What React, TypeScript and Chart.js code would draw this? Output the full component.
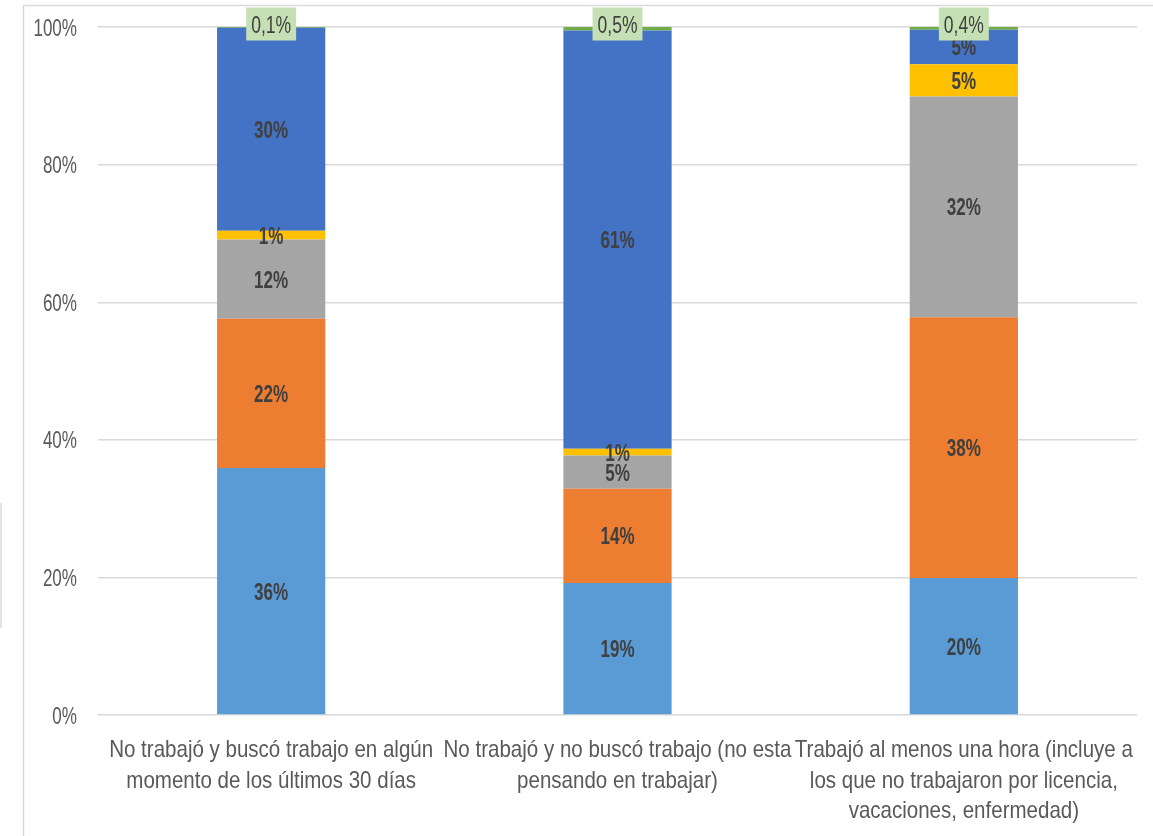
import React, { useEffect, useRef } from "react";
import { Chart, registerables } from "chart.js";

Chart.register(...registerables);

const categories: string[][] = [
  ["No trabajó y buscó trabajo en algún", "momento de los últimos 30 días"],
  ["No trabajó y no buscó trabajo (no esta", "pensando en trabajar)"],
  ["Trabajó al menos una hora (incluye a", "los que no trabajaron por licencia,", "vacaciones, enfermedad)"],
];

const lightBlueValues = [35.9, 19.2, 19.9];
const orangeValues = [21.7, 13.7, 37.9];
const grayValues = [11.5, 4.8, 32.1];
const yellowValues = [1.3, 1.0, 4.7];
const darkBlueValues = [29.5, 60.8, 5.0];
const greenValues = [0.1, 0.5, 0.4];

const seriesNames = ["Serie 1", "Serie 2", "Serie 3", "Serie 4", "Serie 5", "Serie 6"];
const seriesColors = ["#5B9BD5", "#ED7D31", "#A5A5A5", "#FFC000", "#4472C4", "#70AD47"];
const yTickValues = [0, 20, 40, 60, 80, 100];

const FONT = "'Liberation Sans', Arial, sans-serif";

function narrowText(ctx: CanvasRenderingContext2D, txt: string, x: number, y: number, sx: number) {
  ctx.save();
  ctx.translate(x, y);
  ctx.scale(sx, 1);
  ctx.fillText(txt, 0, 0);
  ctx.restore();
}

const labelsPlugin = {
  id: "segLabels",
  afterDatasetsDraw(chart: any) {
    const ctx = chart.ctx as CanvasRenderingContext2D;
    const n = chart.data.datasets.length;
    chart.data.datasets.forEach((ds: any, di: number) => {
      const meta = chart.getDatasetMeta(di);
      meta.data.forEach((el: any, i: number) => {
        const v = ds.data[i] as number;
        ctx.save();
        ctx.textAlign = "center";
        ctx.textBaseline = "alphabetic";
        if (di === n - 1) {
          const txt = v.toFixed(1).replace(".", ",") + "%";
          ctx.font = `24px ${FONT}`;
          const w = ctx.measureText(txt).width * 0.73 + 10;
          const h = 33;
          const cy = el.y - 3;
          ctx.fillStyle = "#C5E0B4";
          ctx.fillRect(el.x - w / 2, cy - h / 2, w, h);
          ctx.fillStyle = "#404040";
          narrowText(ctx, txt, el.x, cy + 8.5, 0.73);
        } else {
          const txt = Math.round(v) + "%";
          ctx.font = `bold 24px ${FONT}`;
          ctx.fillStyle = "#404040";
          narrowText(ctx, txt, el.x, (el.y + el.base) / 2 + 8.5, 0.71);
        }
        ctx.restore();
      });
    });
  },
  afterDraw(chart: any) {
    const ctx = chart.ctx as CanvasRenderingContext2D;
    const ys = chart.scales.y;
    const xs = chart.scales.x;
    ctx.save();
    ctx.fillStyle = "#595959";
    ctx.font = `24px ${FONT}`;
    ctx.textBaseline = "alphabetic";
    ctx.textAlign = "right";
    yTickValues.forEach((v) => {
      const py = ys.getPixelForValue(v);
      narrowText(ctx, v + "%", ys.right - 21, py + 8.5, 0.71);
    });
    ctx.textAlign = "center";
    (chart.data.labels as string[][]).forEach((lines, i) => {
      const px = xs.getPixelForValue(i);
      lines.forEach((line, li) => {
        narrowText(ctx, line, px, xs.top + 42 + li * 30.5, 0.855);
      });
    });
    ctx.restore();
  },
};

const framePlugin = {
  id: "frame",
  beforeDraw(chart: any) {
    const ctx = chart.ctx;
    ctx.save();
    ctx.fillStyle = "#ffffff";
    ctx.fillRect(0, 0, chart.width, chart.height);
    ctx.strokeStyle = "#D9D9D9";
    ctx.lineWidth = 1.5;
    ctx.beginPath();
    ctx.moveTo(23.5, chart.height);
    ctx.lineTo(23.5, 5.5);
    ctx.lineTo(chart.width, 5.5);
    ctx.stroke();
    ctx.strokeStyle = "#E4E4E4";
    ctx.lineWidth = 2;
    ctx.beginPath();
    ctx.moveTo(1, 503);
    ctx.lineTo(1, 628);
    ctx.stroke();
    ctx.restore();
  },
};

export default function App() {
  const ref = useRef<HTMLCanvasElement | null>(null);
  useEffect(() => {
    document.body.style.margin = "0";
    const canvas = ref.current!;
    const valuesList = [lightBlueValues, orangeValues, grayValues, yellowValues, darkBlueValues, greenValues];
    const chart = new Chart(canvas, {
      type: "bar",
      data: {
        labels: categories,
        datasets: valuesList.map((vals, i) => ({
          label: seriesNames[i],
          data: vals,
          backgroundColor: seriesColors[i],
          borderWidth: 0,
          barPercentage: 0.625,
          categoryPercentage: 0.5,
        })),
      },
      options: {
        responsive: false,
        animation: false,
        layout: { padding: { left: 0, right: 16, top: 27, bottom: 0 } },
        plugins: {
          legend: { display: false },
          tooltip: { enabled: false },
        },
        scales: {
          x: {
            stacked: true,
            grid: { display: false, drawTicks: false },
            border: { display: false },
            ticks: { display: false },
            afterFit(scale: any) {
              scale.height = 121;
              scale.paddingLeft = 0;
              scale.paddingRight = 0;
            },
          },
          y: {
            stacked: true,
            min: 0,
            max: 100,
            afterBuildTicks(scale: any) {
              scale.ticks = yTickValues.map((v) => ({ value: v }));
            },
            grid: { color: "#D9D9D9", lineWidth: 1.4, drawTicks: false },
            border: { display: false },
            ticks: { display: false },
            afterFit(scale: any) {
              scale.width = 98;
              scale.paddingTop = 0;
              scale.paddingBottom = 0;
            },
          },
        },
      },
      plugins: [framePlugin, labelsPlugin],
    });
    return () => chart.destroy();
  }, []);
  return (
    <div style={{ position: "absolute", left: 0, top: 0, width: 1153, height: 836 }}>
      <canvas ref={ref} width={1153} height={836} style={{ width: 1153, height: 836, display: "block" }} />
    </div>
  );
}
